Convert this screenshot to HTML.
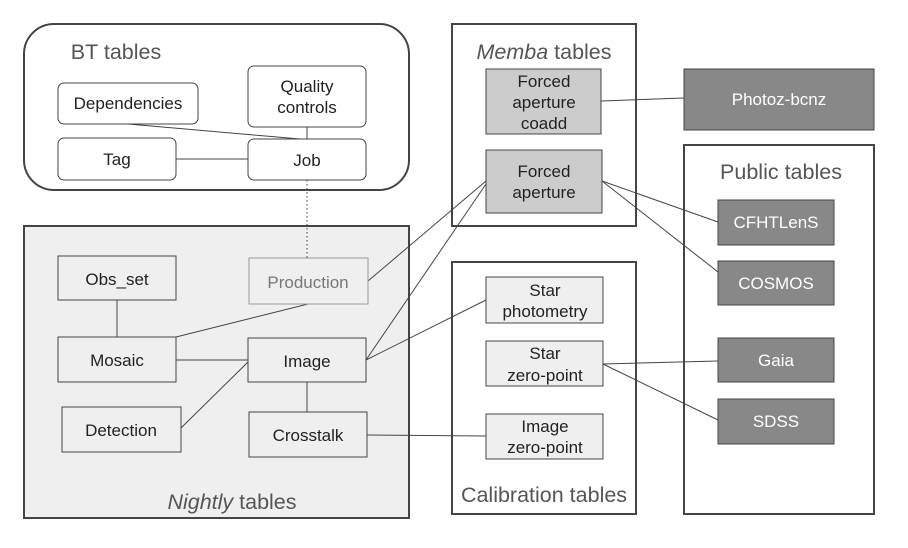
<!DOCTYPE html>
<html><head><meta charset="utf-8"><style>
html,body{margin:0;padding:0;background:#fff;}
svg{display:block;}
text{font-family:"Liberation Sans",sans-serif;}
</style></head><body>
<svg width="908" height="548" viewBox="0 0 908 548" xmlns="http://www.w3.org/2000/svg">
<rect x="0" y="0" width="908" height="548" fill="#fff"/>
<rect x="24" y="24" width="385" height="166" rx="30" fill="#fff" stroke="#444" stroke-width="2"/>
<text x="116" y="59" font-size="21.5" fill="#555" text-anchor="middle">BT tables</text>
<rect x="24" y="226" width="385" height="292" fill="#efefef" stroke="#444" stroke-width="2"/>
<text x="232" y="509" font-size="21.5" fill="#555" text-anchor="middle"><tspan font-style="italic">Nightly</tspan> tables</text>
<rect x="452" y="24" width="184" height="202" fill="#fff" stroke="#444" stroke-width="2"/>
<text x="544" y="59" font-size="21.5" fill="#555" text-anchor="middle"><tspan font-style="italic">Memba</tspan> tables</text>
<rect x="452" y="262" width="184" height="252" fill="#fff" stroke="#444" stroke-width="2"/>
<text x="544" y="502" font-size="21.5" fill="#555" text-anchor="middle">Calibration tables</text>
<rect x="684" y="145" width="190" height="369" fill="#fff" stroke="#444" stroke-width="2"/>
<text x="781" y="179" font-size="21.5" fill="#555" text-anchor="middle">Public tables</text>

<g stroke="#444" stroke-width="1" fill="none">
<line x1="128" y1="124" x2="300" y2="139"/>
<line x1="307" y1="127" x2="307" y2="139"/>
<line x1="176" y1="159" x2="248" y2="159"/>
<line x1="307" y1="180" x2="307" y2="258" stroke-dasharray="1.5,2.5"/>
<line x1="117" y1="300" x2="117" y2="337"/>
<line x1="176" y1="337" x2="308" y2="304"/>
<line x1="176" y1="360" x2="248" y2="360"/>
<line x1="181" y1="428" x2="248" y2="362"/>
<line x1="307" y1="382" x2="307" y2="412"/>
<line x1="368" y1="281" x2="486" y2="181"/>
<line x1="366" y1="360" x2="486" y2="184"/>
<line x1="366" y1="360" x2="486" y2="300"/>
<line x1="367" y1="435" x2="486" y2="436"/>
<line x1="601" y1="101" x2="684" y2="98"/>
<line x1="602" y1="181" x2="718" y2="222"/>
<line x1="602" y1="181" x2="718" y2="272"/>
<line x1="603" y1="364" x2="718" y2="361"/>
<line x1="603" y1="364" x2="718" y2="420"/>
</g>

<g fill="#fff" stroke="#444" stroke-width="1">
<rect x="58" y="83" width="140" height="41" rx="6"/>
<rect x="248" y="66" width="118" height="61" rx="6"/>
<rect x="58" y="138" width="118" height="42" rx="6"/>
<rect x="248" y="139" width="118" height="41" rx="6"/>
</g>
<g font-size="17" fill="#222" text-anchor="middle">
<text x="128" y="109">Dependencies</text>
<text x="307" y="92">Quality</text>
<text x="307" y="113">controls</text>
<text x="117" y="165">Tag</text>
<text x="307" y="166">Job</text>
</g>

<g fill="#efefef" stroke="#444" stroke-width="1">
<rect x="58" y="256" width="118" height="44"/>
<rect x="58" y="337" width="118" height="45"/>
<rect x="248" y="338" width="118" height="44"/>
<rect x="62" y="407" width="119" height="45"/>
<rect x="249" y="412" width="118" height="45"/>
</g>
<rect x="249" y="258" width="119" height="46" fill="#efefef" stroke="#999" stroke-width="1"/>
<g font-size="17" fill="#222" text-anchor="middle">
<text x="117" y="285">Obs_set</text>
<text x="117" y="366">Mosaic</text>
<text x="307" y="367">Image</text>
<text x="121" y="436">Detection</text>
<text x="308" y="441">Crosstalk</text>
</g>
<text x="308" y="288" font-size="17" fill="#777" text-anchor="middle">Production</text>

<g fill="#cccccc" stroke="#444" stroke-width="1">
<rect x="486" y="69" width="115" height="65"/>
<rect x="486" y="150" width="116" height="63"/>
</g>
<g font-size="17" fill="#222" text-anchor="middle">
<text x="544" y="87">Forced</text>
<text x="544" y="108">aperture</text>
<text x="544" y="129">coadd</text>
<text x="544" y="177">Forced</text>
<text x="544" y="198">aperture</text>
</g>

<g fill="#efefef" stroke="#444" stroke-width="1">
<rect x="486" y="277" width="117" height="46"/>
<rect x="486" y="341" width="117" height="45"/>
<rect x="486" y="414" width="117" height="45"/>
</g>
<g font-size="17" fill="#222" text-anchor="middle">
<text x="545" y="296">Star</text>
<text x="545" y="317">photometry</text>
<text x="545" y="359">Star</text>
<text x="545" y="381">zero-point</text>
<text x="545" y="432">Image</text>
<text x="545" y="453">zero-point</text>
</g>

<g fill="#888888" stroke="#444" stroke-width="1">
<rect x="684" y="69" width="190" height="61"/>
<rect x="718" y="200" width="116" height="45"/>
<rect x="718" y="261" width="116" height="44"/>
<rect x="718" y="338" width="116" height="44"/>
<rect x="718" y="399" width="116" height="45"/>
</g>
<g font-size="17" fill="#fff" text-anchor="middle">
<text x="779" y="105">Photoz-bcnz</text>
<text x="776" y="228">CFHTLenS</text>
<text x="776" y="289">COSMOS</text>
<text x="776" y="366">Gaia</text>
<text x="776" y="427">SDSS</text>
</g>
</svg>
</body></html>
